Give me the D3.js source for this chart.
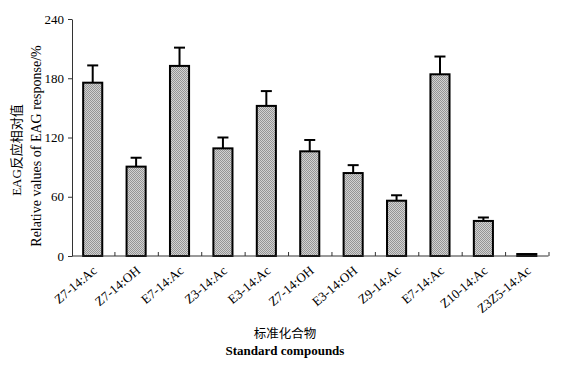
<!DOCTYPE html>
<html>
<head>
<meta charset="utf-8">
<script src="https://cdn.jsdelivr.net/npm/d3@7"></script>
<style>
  body { margin: 0; background: #fff; }
  svg { display: block; }
</style>
</head>
<body>
<svg id="chart" width="561" height="369"></svg>
<script>
// Data
const compounds = ["Z7-14:Ac", "Z7-14:OH", "E7-14:Ac", "Z3-14:Ac", "E3-14:Ac", "Z7-14:OH",
    "E3-14:OH", "Z9-14:Ac", "E7-14:Ac", "Z10-14:Ac", "Z3Z5-14:Ac"];
const meanValues = [175.5, 90.5, 192.5, 109, 152, 106, 84, 56, 184, 35.5, 2];
const errorValues = [17.5, 9, 18.5, 11, 15, 11.5, 8, 5.5, 18, 3.5, 0];
const yTicks = [0, 60, 120, 180, 240];

const serif = "'Liberation Serif', 'Times New Roman', serif";
const cjk = "'Noto Sans CJK SC', sans-serif";

const svg = d3.select("#chart");

// plot box
const plot = { left: 72, right: 548.5, top: 19, bottom: 256 };

// pattern fill for the bars (fine grey checker)
const defs = svg.append("defs");
const pat = defs.append("pattern")
    .attr("id", "checker")
    .attr("width", 2).attr("height", 2)
    .attr("patternUnits", "userSpaceOnUse");
pat.append("rect").attr("width", 2).attr("height", 2).attr("fill", "#d2d2d2");
pat.append("rect").attr("width", 1).attr("height", 1).attr("fill", "#959595");
pat.append("rect").attr("x", 1).attr("y", 1).attr("width", 1).attr("height", 1).attr("fill", "#959595");

const data = compounds.map((c, i) => ({ id: i, name: c, value: meanValues[i], err: errorValues[i] }));

const x = d3.scaleBand()
    .domain(data.map(d => d.id))
    .range([plot.left - 1, plot.right])
    .paddingInner(0.56)
    .paddingOuter(0.28);

const y = d3.scaleLinear()
    .domain([0, 240])
    .range([plot.bottom, plot.top]);

// boundaries between categories (x tick marks)
const xCells = d3.scaleLinear().domain([0, compounds.length]).range([plot.left - 1, plot.right]);

// error bars (drawn first so the bar outline sits on top)
const errG = svg.append("g")
    .attr("stroke", "#000")
    .attr("stroke-width", 2);

data.filter(d => d.err > 0).forEach(d => {
    const cx = x(d.id) + x.bandwidth() / 2;
    errG.append("line")
        .attr("x1", cx).attr("x2", cx)
        .attr("y1", y(d.value)).attr("y2", y(d.value + d.err));
    errG.append("line")
        .attr("x1", cx - 5.5).attr("x2", cx + 5.5)
        .attr("y1", y(d.value + d.err)).attr("y2", y(d.value + d.err));
});

// bars
svg.append("g")
    .selectAll("rect")
    .data(data)
    .join("rect")
    .attr("x", d => x(d.id))
    .attr("y", d => y(d.value))
    .attr("width", x.bandwidth())
    .attr("height", d => y(0) - y(d.value))
    .attr("fill", "url(#checker)")
    .attr("stroke", "#000")
    .attr("stroke-width", 2);

// y axis
const yAxis = svg.append("g")
    .attr("transform", `translate(${plot.left},0)`)
    .call(d3.axisLeft(y).tickValues(yTicks).tickSize(4).tickSizeOuter(0).tickPadding(4));
yAxis.select(".domain").attr("stroke", "#333");
yAxis.selectAll(".tick line").attr("stroke", "#333");
yAxis.selectAll("text")
    .attr("font-family", serif)
    .attr("font-size", 13)
    .attr("fill", "#000");

// x axis: line plus short inward ticks between categories
const xAxis = svg.append("g")
    .attr("transform", `translate(0,${plot.bottom})`)
    .call(d3.axisBottom(xCells)
        .tickValues(d3.range(1, compounds.length + 1))
        .tickSize(-4).tickSizeOuter(0)
        .tickFormat(""));
xAxis.select(".domain").attr("stroke", "#333").attr("d", `M${plot.left},0H${plot.right}`);
xAxis.selectAll(".tick line").attr("stroke", "#333");

// rotated category labels
svg.append("g")
    .selectAll("text")
    .data(data)
    .join("text")
    .attr("transform", d => `translate(${x(d.id) + x.bandwidth() / 2 + 5},${plot.bottom + 16}) rotate(-40)`)
    .attr("text-anchor", "end")
    .attr("font-family", serif)
    .attr("font-size", 13)
    .attr("fill", "#000")
    .text(d => d.name);

// x axis titles
svg.append("text")
    .attr("x", 285).attr("y", 338)
    .attr("text-anchor", "middle")
    .attr("font-family", cjk)
    .attr("font-size", 12.5)
    .attr("fill", "#000")
    .text("标准化合物");

svg.append("text")
    .attr("x", 285).attr("y", 355)
    .attr("text-anchor", "middle")
    .attr("font-family", serif)
    .attr("font-weight", "bold")
    .attr("font-size", 13)
    .attr("fill", "#000")
    .text("Standard compounds");

// y axis titles
svg.append("text")
    .attr("transform", "translate(21,150) rotate(-90)")
    .attr("text-anchor", "middle")
    .attr("fill", "#000")
    .attr("font-size", 13)
    .call(t => {
        t.append("tspan").attr("font-family", serif).text("EAG");
        t.append("tspan").attr("font-family", cjk).text("反应相对值");
    });

svg.append("text")
    .attr("transform", "translate(41,146) rotate(-90)")
    .attr("text-anchor", "middle")
    .attr("font-family", serif)
    .attr("font-size", 14)
    .attr("fill", "#000")
    .text("Relative values of EAG response/%");
</script>
</body>
</html>
